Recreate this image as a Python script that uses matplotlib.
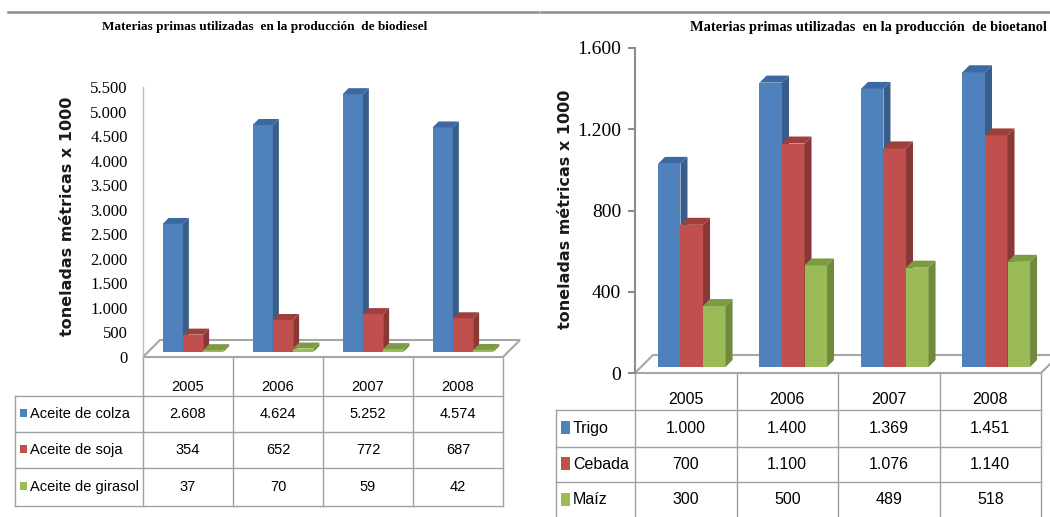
import matplotlib
matplotlib.use('Agg')
import matplotlib.pyplot as plt
from matplotlib.patches import Polygon, Rectangle
from matplotlib.lines import Line2D
from matplotlib.transforms import blended_transform_factory

W, H = 1050, 517

years = ['2005', '2006', '2007', '2008']

# Biodiesel feedstocks (thousand tonnes)
biodiesel_names = ['Aceite de colza', 'Aceite de soja', 'Aceite de girasol']
aceite_colza = [2608, 4624, 5252, 4574]
aceite_soja = [354, 652, 772, 687]
aceite_girasol = [37, 70, 59, 42]
biodiesel_ticks = [0, 500, 1000, 1500, 2000, 2500, 3000, 3500, 4000, 4500, 5000, 5500]

# Bioethanol feedstocks (thousand tonnes)
bioetanol_names = ['Trigo', 'Cebada', 'Maíz']
trigo = [1000, 1400, 1369, 1451]
cebada = [700, 1100, 1076, 1140]
maiz = [300, 500, 489, 518]
bioetanol_ticks = [0, 400, 800, 1200, 1600]

front_col = ['#4F81BD', '#C0504D', '#9BBB59']
side_col = ['#385D8A', '#8A3836', '#6E8A3C']
top_col = ['#3D69A2', '#9E3F3C', '#7C9B44']

SERIF = ['Liberation Serif', 'DejaVu Serif']
SANS = ['Liberation Sans', 'DejaVu Sans']


def fmt(v):
    return f'{v:,}'.replace(',', '.')


fig = plt.figure(figsize=(W / 100, H / 100), dpi=100)
bg = fig.add_axes([0, 0, 1, 1])
bg.set_xlim(0, W)
bg.set_ylim(H, 0)
bg.axis('off')

# gray rules across the top of both panels
bg.add_line(Line2D([8, 538], [12, 12], color='#8C8C8C', lw=1.8))
bg.add_line(Line2D([541, W], [12, 12], color='#8C8C8C', lw=1.8))


def draw_panel(x0, x1, y_zero, y_top, ymax, ticks, series, names, width,
               floor_d, bar_d, side_d, spine_col, spine_lw, tick_len, tick_pad,
               tick_size, table_size, header_y, row_edges, label_left, square,
               ylabel_xy, ylabel_size):
    ax = fig.add_axes([x0 / W, (H - y_zero) / H, (x1 - x0) / W, (y_zero - y_top) / H])
    ax.set_xlim(-0.5, 3.5)
    ax.set_ylim(0, ymax)
    ax.patch.set_alpha(0)
    px_x = (x1 - x0) / 4
    px_y = (y_zero - y_top) / ymax

    # floor of the 3D box
    fdx, fdy = floor_d / px_x, floor_d / px_y
    ax.add_patch(Polygon([(-0.5, 0), (3.5, 0), (3.5 + fdx, fdy), (-0.5 + fdx, fdy)],
                         closed=True, facecolor='white', edgecolor='#A6A6A6',
                         lw=1.5, zorder=1, clip_on=False))

    # bars: front face + side + top
    sx, sy = bar_d / px_x, bar_d / px_y
    ddx, ddy = side_d / px_x, side_d / px_y
    for k, vals in enumerate(series):
        lefts = [i - 1.5 * width + k * width + sx for i in range(len(vals))]
        ax.bar(lefts, vals, width, bottom=sy, align='edge', color=front_col[k],
               zorder=2 + k, clip_on=False, linewidth=0)
        for xl, v in zip(lefts, vals):
            xr = xl + width
            yb, yt = sy, sy + v
            ax.add_patch(Polygon([(xr, yb), (xr + ddx, yb + ddy), (xr + ddx, yt + ddy), (xr, yt)],
                                 closed=True, facecolor=side_col[k], edgecolor='none',
                                 zorder=2 + k, clip_on=False))
            ax.add_patch(Polygon([(xl, yt), (xr, yt), (xr + ddx, yt + ddy), (xl + ddx, yt + ddy)],
                                 closed=True, facecolor=top_col[k], edgecolor='none',
                                 zorder=2 + k, clip_on=False))

    for s in ['top', 'right', 'bottom']:
        ax.spines[s].set_visible(False)
    ax.spines['left'].set_color(spine_col)
    ax.spines['left'].set_linewidth(spine_lw)
    ax.set_xticks([])
    ax.set_yticks(ticks)
    ax.set_yticklabels([fmt(t) for t in ticks])
    ax.tick_params(axis='y', length=tick_len, width=spine_lw, color=spine_col,
                   pad=tick_pad, labelsize=tick_size)
    for lbl in ax.get_yticklabels():
        lbl.set_fontfamily(SERIF)

    bg.text(ylabel_xy[0], ylabel_xy[1], 'toneladas métricas x 1000', rotation=90,
            ha='center', va='center', fontsize=ylabel_size, fontweight='bold',
            family='DejaVu Sans', color='#1A1A1A')

    # data table under the chart, columns follow the category axis
    tr = blended_transform_factory(ax.transData, bg.transData)
    grid = dict(color='#A0A0A0', lw=1.0)
    for c in range(len(years) + 1):
        bg.add_line(Line2D([c - 0.5, c - 0.5], [y_zero, row_edges[-1]], transform=tr, **grid))
    bg.add_line(Line2D([label_left, label_left], [row_edges[0], row_edges[-1]], **grid))
    for y in row_edges:
        bg.add_line(Line2D([label_left, x1], [y, y], **grid))

    for i, yr in enumerate(years):
        bg.text(i, header_y, yr, transform=tr, ha='center', va='center',
                fontsize=table_size, family=SANS)
    for r, (name, vals) in enumerate(zip(names, series)):
        yc = (row_edges[r] + row_edges[r + 1]) / 2
        sw, sh = square
        bg.add_patch(Rectangle((label_left + 5, yc - sh / 2 - 1), sw, sh,
                               facecolor=front_col[r], edgecolor='none'))
        bg.text(label_left + 8 + sw, yc, name, ha='left', va='center',
                fontsize=table_size, family=SANS)
        for i, v in enumerate(vals):
            bg.text(i, yc, fmt(v), transform=tr, ha='center', va='center',
                    fontsize=table_size, family=SANS)
    return ax


draw_panel(143, 503, 357, 87, 5500, biodiesel_ticks,
           [aceite_colza, aceite_soja, aceite_girasol], biodiesel_names,
           width=0.225, floor_d=17, bar_d=5, side_d=6,
           spine_col='#BFBFBF', spine_lw=1.0, tick_len=0, tick_pad=11,
           tick_size=12, table_size=10.5, header_y=387,
           row_edges=[396, 432, 468, 506], label_left=15, square=(7, 8),
           ylabel_xy=(67, 216), ylabel_size=11.5)

draw_panel(635, 1041, 373, 48, 1600, bioetanol_ticks,
           [trigo, cebada, maiz], bioetanol_names,
           width=0.222, floor_d=18, bar_d=6, side_d=7,
           spine_col='#8C8C8C', spine_lw=1.5, tick_len=5, tick_pad=5,
           tick_size=14, table_size=11.5, header_y=400,
           row_edges=[410, 447, 482, 518], label_left=556, square=(9, 13),
           ylabel_xy=(566, 209), ylabel_size=11.5)

bg.text(265, 27, 'Materias primas utilizadas  en la producción  de biodiesel',
        ha='center', va='center', fontsize=9.5, fontweight='bold', family=SERIF)
bg.text(1047, 27, 'Materias primas utilizadas  en la producción  de bioetanol',
        ha='right', va='center', fontsize=10.4, fontweight='bold', family=SERIF)

fig.savefig('out.png', dpi=100)
